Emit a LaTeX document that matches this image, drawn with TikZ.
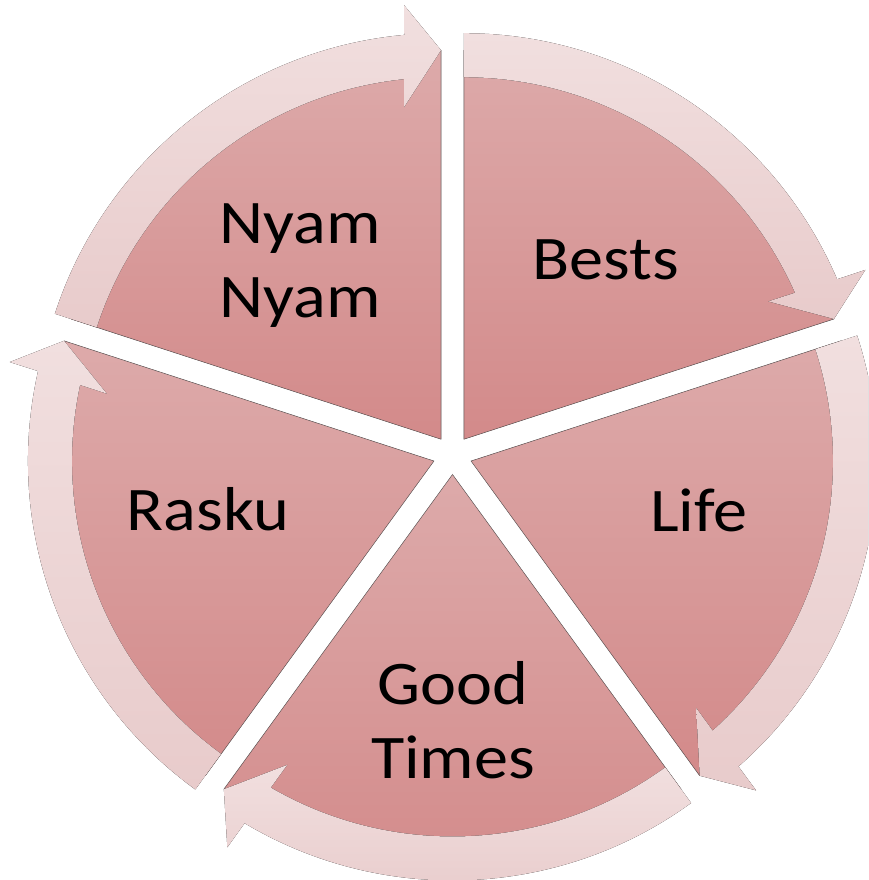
\documentclass[tikz,border=0pt]{standalone}
\usepackage{fontspec}
\setmainfont{Carlito}[FakeStretch=1.1]
\usetikzlibrary{calc}
\definecolor{segtop}{RGB}{221,170,170}
\definecolor{segbot}{RGB}{211,138,138}
\definecolor{arrtop}{RGB}{241,223,223}
\definecolor{arrbot}{RGB}{232,203,203}
\begin{document}
\begin{tikzpicture}[x=1pt,y=1pt,
  seg/.style={top color=segtop, bottom color=segbot, draw=none},
  segedge/.style={draw=black!70, line width=0.6pt, opacity=0.6},
  arr/.style={top color=arrtop, bottom color=arrbot, draw=none},
  lbl/.style={font=\fontsize{62}{74}\selectfont, align=center, inner sep=0pt, text=black}]
\useasboundingbox (0,0) rectangle (868,880);
\clip (0,0) rectangle (868,880);
\coordinate (C) at (452.5,425);
% segments
\foreach \t/\n in {126/nyam,54/bests,-18/life,-90/good,198/rasku}{
  \coordinate (A\n) at ($(C)+(\t:19.5)$);
  \begin{scope}[shift={(A\n)}]
    \fill[seg] (0,0) -- ({\t+36}:389) arc[start angle={\t+36}, end angle={\t-36}, radius=389] -- cycle;
    \draw[segedge] ({\t+36}:389) -- (0,0) -- ({\t-36}:389);
  \end{scope}
}
% arrows
\foreach \t/\n in {126/nyam,54/bests,-18/life,-90/good,198/rasku}{
  \begin{scope}[shift={(A\n)}]
    \fill[arr] ({\t+36}:406) arc[start angle={\t+36}, end angle={\t-30.8}, radius=406]
      -- ({\t-31.13}:435.6) -- ({\t-36}:389) -- ({\t-29.64}:334.1)
      -- ({\t-30.13}:362) arc[start angle={\t-30.13}, end angle={\t+36}, radius=362] -- cycle;
  \end{scope}
}
% labels
\node[lbl] (tnyam) at (300,614) {Nyam\\Nyam};
\node[lbl, anchor=base] (tbests) at (606,600.4) {Bests};
\node[lbl, anchor=base] (tlife) at (699,348.5) {Life};
\node[lbl] (tgood) at (453,160) {Good\\Times};
\node[lbl, anchor=base] (trasku) at (208,349) {Rasku};
\end{tikzpicture}
\end{document}
